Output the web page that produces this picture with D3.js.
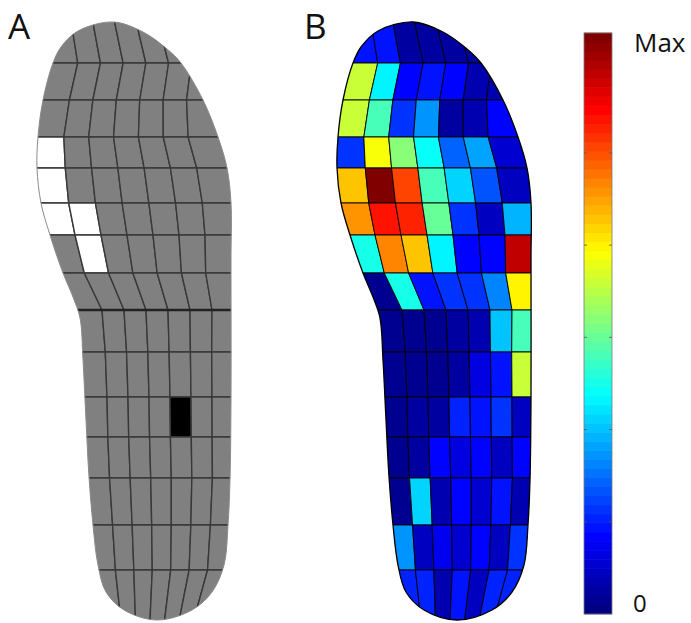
<!DOCTYPE html>
<html>
<head>
<meta charset="utf-8">
<script src="https://cdn.jsdelivr.net/npm/d3@7"></script>
<style>
  body { margin: 0; background: #fff; }
  svg { display: block; }
</style>
</head>
<body>
<div id="chart"></div>
<script>
// Data
const rowCount = 15;
const colCount = 7;
const panelLabels = ["A", "B"];

// pressure per cell (row 0 = toe, col 0 = medial side), 0..63 colour steps
const pressure = [
  [ 9,  9,  2,  2,  2,  2,  2],
  [36, 23,  8,  9,  8,  3,  3],
  [36, 28, 11, 17,  2,  3,  8],
  [11, 39, 32, 24, 14, 18,  5],
  [43, 63, 51, 28, 21, 13,  4],
  [46, 54, 53, 30, 11,  4, 19],
  [25, 47, 43, 23,  8,  8, 59],
  [ 1, 25,  9, 11, 11, 16, 40],
  [ 1,  1,  1,  2,  3, 20, 28],
  [ 1,  1,  1,  2,  6,  9, 36],
  [ 1,  2,  2, 10,  9, 11,  4],
  [ 1,  2,  8,  6,  8,  4,  8],
  [ 1, 21,  3,  8,  5,  9,  3],
  [17,  4,  7,  5,  8,  4, 11],
  [10, 10,  3,  9,  4, 10, 10]
];

// panel A: highlighted cells [row, col]
const whiteCells = [[3, 0], [4, 0], [5, 0], [5, 1], [6, 1]];
const blackCells = [[10, 4]];

const colorMax = 63;
const colorTicks = [10, 20, 30, 40, 50];
const colorEndLabels = ["0", "Max"];

// Geometry of the insole mesh (panel A coordinates)
const meshY = [18, 63, 100, 137, 168, 203, 235, 273, 310, 352, 397, 437, 478, 525, 570, 624];
const meshL = [49, 55, 46, 39, 39, 42, 49, 60, 80, 84, 86, 87, 89, 93, 97, 107];
const meshR = [200, 214, 210, 213, 223, 229, 231, 230, 234, 233, 233, 233, 233, 230, 226, 207];
const outlinePts = [
  [113, 22], [143, 32], [167, 49], [181, 63], [203, 100], [218, 137], [227, 168],
  [231, 203], [231, 260], [231, 400], [230, 480], [228, 525], [224, 565],
  [212, 592], [192, 610], [157, 620], [124, 610], [106, 592], [98, 565],
  [93, 525], [89, 477], [86, 420], [83, 360], [80, 318], [73, 297], [63, 273],
  [50, 235], [41, 203], [37, 168], [38, 137], [43, 100], [53, 63], [61, 47], [78, 31]
];
const panelOffset = [0, 300];

const width = 691, height = 623;

const svg = d3.select("#chart").append("svg")
  .attr("width", width)
  .attr("height", height);

// jet colormap
function jet(t) {
  const c = v => Math.max(0, Math.min(1, v));
  const r = c(1.5 - Math.abs(4 * t - 3));
  const g = c(1.5 - Math.abs(4 * t - 2));
  const b = c(1.5 - Math.abs(4 * t - 1));
  return d3.rgb(r * 255, g * 255, b * 255).toString();
}
const color = d3.scaleSequential(jet).domain([0, colorMax]);

// Scales for the mesh
const rowY = d3.scaleLinear().domain(d3.range(rowCount + 1)).range(meshY);
const colX = d3.range(rowCount + 1).map(b =>
  d3.scaleLinear().domain([0, colCount]).range([meshL[b], meshR[b]]));

function xAt(b, k) {
  let x = colX[b](k);
  if (k === 0) x -= 25;
  if (k === colCount) x += 25;
  return x;
}

function cellPath(r, c) {
  const p = [
    [xAt(r, c), rowY(r)], [xAt(r, c + 1), rowY(r)],
    [xAt(r + 1, c + 1), rowY(r + 1)], [xAt(r + 1, c), rowY(r + 1)]
  ];
  return "M" + p.map(d => d.join(",")).join("L") + "Z";
}

const outline = d3.line().curve(d3.curveCatmullRomClosed.alpha(0.5));

const cells = [];
for (let r = 0; r < rowCount; r++)
  for (let c = 0; c < colCount; c++) cells.push({ r, c, v: pressure[r][c] });

const isIn = (list, d) => list.some(p => p[0] === d.r && p[1] === d.c);

panelLabels.forEach((label, i) => {
  const g = svg.append("g").attr("transform", `translate(${panelOffset[i]},0)`);

  g.append("clipPath").attr("id", "sole" + i)
    .append("path").attr("d", outline(outlinePts));

  const inner = g.append("g").attr("clip-path", `url(#sole${i})`);

  inner.selectAll("path.cell")
    .data(cells)
    .enter().append("path")
    .attr("class", "cell")
    .attr("d", d => cellPath(d.r, d.c))
    .attr("fill", d => {
      if (i === 1) return color(d.v);
      if (isIn(whiteCells, d)) return "#fff";
      if (isIn(blackCells, d)) return "#000";
      return "#808080";
    })
    .attr("stroke", i === 0 ? "#383838" : "#000")
    .attr("stroke-width", i === 0 ? 1.4 : 0.9)
    .attr("stroke-linejoin", "round");

  if (i === 0) {
    // heavier line between forefoot and heel
    inner.append("line")
      .attr("x1", xAt(8, 0)).attr("x2", xAt(8, colCount))
      .attr("y1", rowY(8)).attr("y2", rowY(8))
      .attr("stroke", "#222").attr("stroke-width", 2.4);
  }

  g.append("path")
    .attr("d", outline(outlinePts))
    .attr("fill", "none")
    .attr("stroke", i === 0 ? "#8a8a8a" : "#000")
    .attr("stroke-width", i === 0 ? 1 : 1.3);

  svg.append("text")
    .attr("x", panelOffset[i] + (i === 0 ? 8 : 4))
    .attr("y", 39)
    .attr("font-family", "'Open Sans', sans-serif")
    .attr("font-size", 35)
    .attr("fill", "#111")
    .text(label);
});

// Colour bar
const cb = { x: 584, w: 28, top: 33, bottom: 614 };
const cbY = d3.scaleLinear().domain([0, colorMax]).range([cb.bottom, cb.top]);
const steps = d3.range(64);
const stepH = colorMax / steps.length;

svg.append("g").selectAll("rect")
  .data(steps)
  .enter().append("rect")
  .attr("x", cb.x)
  .attr("width", cb.w)
  .attr("y", d => cbY((d + 1) * stepH) - 0.3)
  .attr("height", d => cbY(d * stepH) - cbY((d + 1) * stepH) + 0.6)
  .attr("fill", d => color(d * colorMax / (steps.length - 1)));

svg.append("rect")
  .attr("x", cb.x).attr("y", cb.top)
  .attr("width", cb.w).attr("height", cb.bottom - cb.top)
  .attr("fill", "none").attr("stroke", "#7a7a7a").attr("stroke-width", 0.8);

const tickG = svg.append("g");
colorTicks.forEach(v => {
  tickG.append("line")
    .attr("x1", cb.x).attr("x2", cb.x + 3)
    .attr("y1", cbY(v)).attr("y2", cbY(v))
    .attr("stroke", "#555").attr("stroke-width", 0.8);
  tickG.append("line")
    .attr("x1", cb.x + cb.w - 3).attr("x2", cb.x + cb.w)
    .attr("y1", cbY(v)).attr("y2", cbY(v))
    .attr("stroke", "#555").attr("stroke-width", 0.8);
});

svg.append("text")
  .attr("x", 634).attr("y", cbY(colorMax) + 19)
  .attr("font-family", "'Open Sans', sans-serif")
  .attr("font-size", 26).attr("fill", "#111")
  .text(colorEndLabels[1]);

svg.append("text")
  .attr("x", 633).attr("y", cbY(0) - 2)
  .attr("font-family", "'Open Sans', sans-serif")
  .attr("font-size", 24).attr("fill", "#111")
  .text(colorEndLabels[0]);
</script>
</body>
</html>
